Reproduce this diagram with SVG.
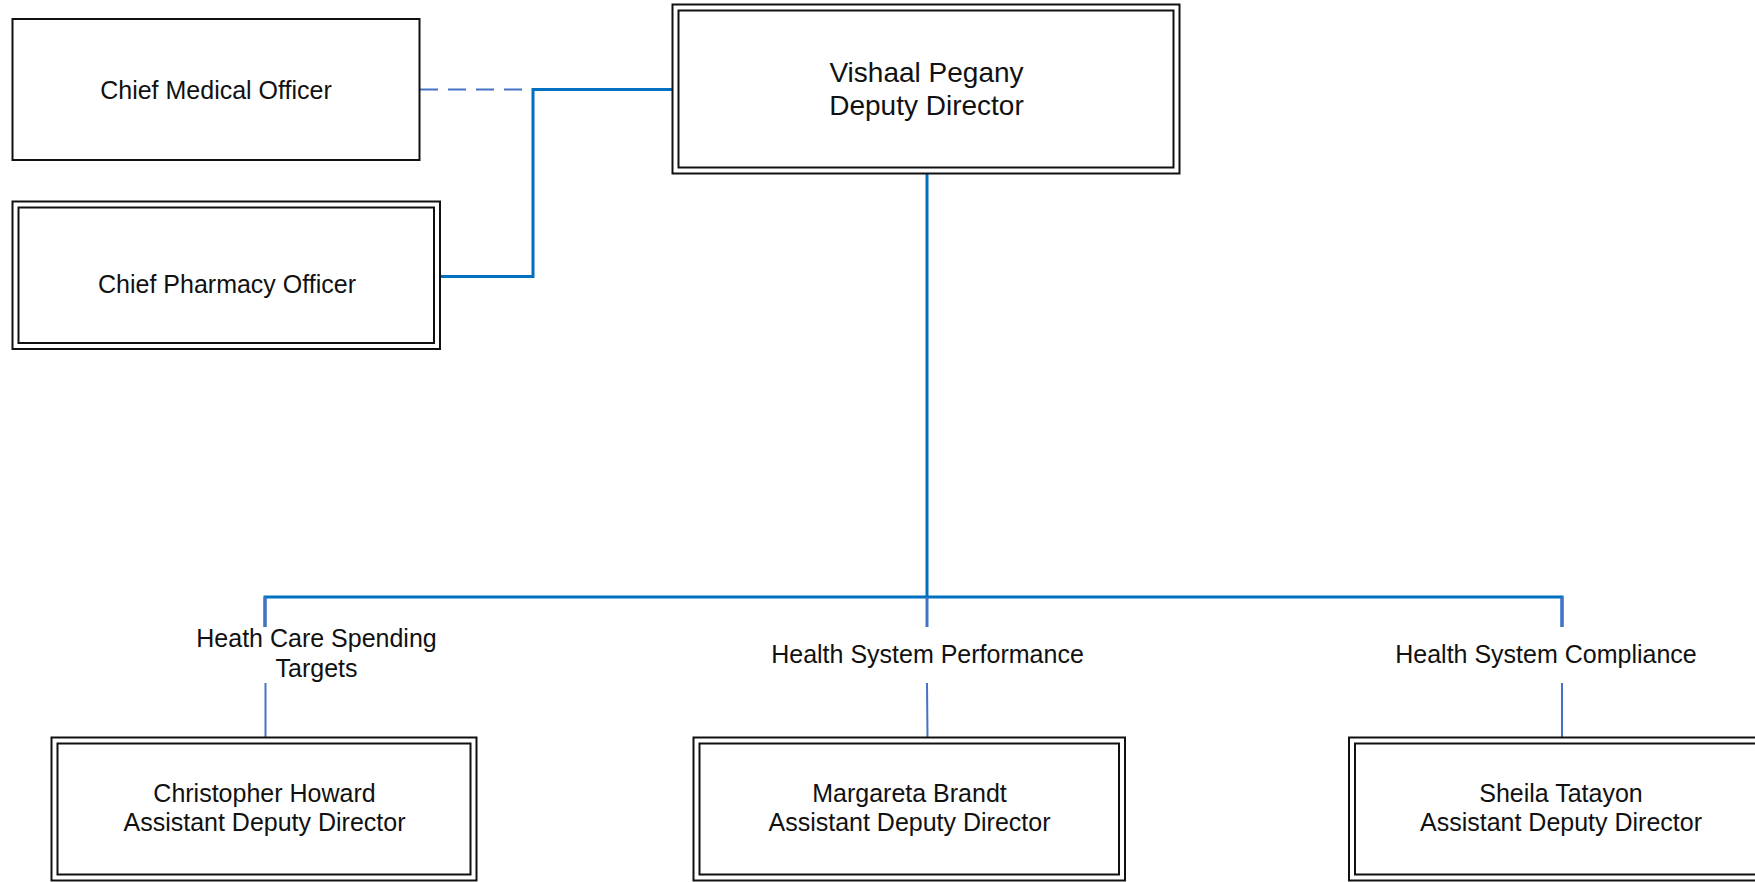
<svg xmlns="http://www.w3.org/2000/svg" width="1755" height="882" viewBox="0 0 1755 882">
<style>
.bg{fill:#ffffff}
.box{fill:#ffffff;stroke:#111111;stroke-width:2}
.inner{fill:none;stroke:#111111;stroke-width:2}
.t{font-family:"Liberation Sans",Arial,sans-serif;font-size:25px;fill:#111111;text-anchor:middle}
.tb{font-family:"Liberation Sans",Arial,sans-serif;font-size:28px;fill:#111111;text-anchor:middle}
.main{fill:none;stroke:#0070C0;stroke-width:3}
.drop{fill:none;stroke:#4472C4;stroke-width:3}
.thin{fill:none;stroke:#4472C4;stroke-width:2}
.dash{fill:none;stroke:#4472C4;stroke-width:2;stroke-dasharray:18 10}
</style>
<rect class="bg" x="0" y="0" width="1755" height="882"/>
<g id="connectors">
<line class="dash" x1="420" y1="89.5" x2="533" y2="89.5"/>
<polyline class="main" points="672.5,89.5 533,89.5 533,276.5 440,276.5"/>
<line class="main" x1="927" y1="174" x2="927" y2="597"/>
<polyline class="main" points="265,627 265,597 1562,597 1562,627"/>
<line class="drop" x1="265" y1="597" x2="265" y2="627"/>
<line class="drop" x1="927" y1="597" x2="927" y2="627"/>
<line class="drop" x1="1562" y1="597" x2="1562" y2="627"/>
<line class="thin" x1="265.5" y1="683" x2="265.5" y2="737.5"/>
<line class="thin" x1="927" y1="683" x2="927.5" y2="737.5"/>
<line class="thin" x1="1562" y1="683" x2="1562" y2="737.5"/>
<text class="t" x="316.5" y="647">Heath Care Spending</text>
<text class="t" x="316.5" y="677">Targets</text>
<text class="t" x="927.5" y="663">Health System Performance</text>
<text class="t" x="1546" y="663">Health System Compliance</text>
</g>
<g id="cmo">
<rect class="box" x="12.5" y="19" width="407" height="141"/>
<text class="t" x="216" y="98.5">Chief Medical Officer</text>
</g>
<g id="cpo">
<rect class="box" x="12.5" y="201.5" width="427.5" height="147.5"/>
<rect class="inner" x="18.5" y="207.5" width="415.5" height="135.5"/>
<text class="t" x="227" y="293">Chief Pharmacy Officer</text>
</g>
<g id="deputy">
<rect class="box" x="672.5" y="4.5" width="507" height="169"/>
<rect class="inner" x="678.5" y="10.5" width="495" height="157"/>
<text class="tb" x="926.5" y="81.5">Vishaal Pegany</text>
<text class="tb" x="926.5" y="114.5">Deputy Director</text>
</g>
<g id="howard">
<rect class="box" x="51.5" y="737.5" width="425" height="143"/>
<rect class="inner" x="57.5" y="743.5" width="413" height="131"/>
<text class="t" x="264.5" y="802">Christopher Howard</text>
<text class="t" x="264.5" y="831">Assistant Deputy Director</text>
</g>
<g id="brandt">
<rect class="box" x="693.5" y="737.5" width="431.5" height="143"/>
<rect class="inner" x="699.5" y="743.5" width="419.5" height="131"/>
<text class="t" x="909.5" y="802">Margareta Brandt</text>
<text class="t" x="909.5" y="831">Assistant Deputy Director</text>
</g>
<g id="tatayon">
<rect class="box" x="1349" y="737.5" width="424" height="143"/>
<rect class="inner" x="1355" y="743.5" width="412" height="131"/>
<text class="t" x="1561" y="802">Sheila Tatayon</text>
<text class="t" x="1561" y="831">Assistant Deputy Director</text>
</g>
</svg>
